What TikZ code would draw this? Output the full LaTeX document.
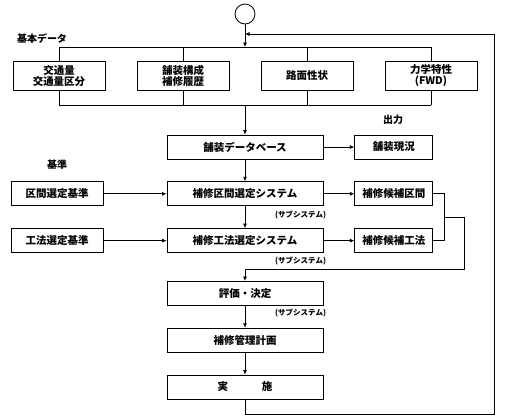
\documentclass[tikz,border=0pt]{standalone}
\usepackage{fontspec}
\setmainfont{Noto Sans CJK JP}
\usepackage{tikz}
\usetikzlibrary{arrows.meta, positioning, calc}

\begin{document}
\begin{tikzpicture}[
    x=1pt, y=-1pt,
    line width=0.8pt,
    node distance=22pt,
    arr/.style={-{Latex[length=4.5pt,width=4pt]}},
    databox/.style={rectangle, draw, minimum width=92pt, minimum height=29pt, align=center, font=\fontsize{10.5}{11}\selectfont\bfseries},
    mainbox/.style={rectangle, draw, minimum width=156pt, minimum height=24pt, font=\fontsize{10.5}{11}\selectfont\bfseries},
    sidebox/.style={rectangle, draw, minimum width=78pt, minimum height=24pt, font=\fontsize{10.5}{11}\selectfont\bfseries},
    critbox/.style={rectangle, draw, minimum width=92pt, minimum height=24pt, font=\fontsize{10.5}{11}\selectfont\bfseries},
    sublabel/.style={inner sep=0pt, font=\fontsize{7.5}{8}\selectfont\bfseries},
    headlabel/.style={inner sep=0pt, font=\fontsize{10}{11}\selectfont\bfseries},
]
\useasboundingbox (0,0) rectangle (515,416);

% Start
\node[circle, draw, minimum size=20pt, inner sep=0pt] (start) at (245,14) {};

% Main column
\node[mainbox] (db) at (245,147) {舗装データベース};
\node[mainbox, below=of db] (secsys) {補修区間選定システム};
\node[mainbox, below=of secsys] (methsys) {補修工法選定システム};
\node[mainbox, below=28pt of methsys] (eval) {評価・決定};
\node[mainbox, below=of eval] (plan) {補修管理計画};
\node[mainbox, below=of plan] (exec) {実\hspace{3.2em}施};

% Basic data
\node[databox, above=44pt of db, xshift=-186pt] (traffic) {交通量\\交通量区分};
\node[databox, above=44pt of db, xshift=-62pt] (pavement) {舗装構成\\補修履歴};
\node[databox, above=44pt of db, xshift=62pt] (surface) {路面性状};
\node[databox, above=44pt of db, xshift=186pt] (fwd) {力学特性\\(FWD)};

% Outputs and criteria
\node[sidebox, right=31pt of db] (status) {舗装現況};
\node[sidebox, right=31pt of secsys] (candsec) {補修候補区間};
\node[sidebox, right=31pt of methsys] (candmeth) {補修候補工法};
\node[critbox, left=63pt of secsys] (critsec) {区間選定基準};
\node[critbox, left=63pt of methsys] (critmeth) {工法選定基準};

% Labels
\node[headlabel] (lbldata) at (42,39) {基本データ};
\node[headlabel] (lblout) at (393,120) {出力};
\node[headlabel] (lblcrit) at (57,165) {基準};
\node[sublabel, below left=4pt and -3pt of secsys.south east] (subsec) {(サブシステム)};
\node[sublabel, below left=4pt and -3pt of methsys.south east] (submeth) {(サブシステム)};
\node[sublabel, below left=3pt and -3pt of eval.south east] (subeval) {(サブシステム)};

% Buses
\coordinate (bustop) at (245,47);
\coordinate (busbot) at (245,105);
\coordinate (loopR) at (494,34);
\coordinate (loopin) at (245,34);

\draw[arr] (start) -- (bustop);
\draw (traffic.north |- bustop) -- (fwd.north |- bustop);
\draw (traffic.south |- busbot) -- (fwd.south |- busbot);
\foreach \n in {traffic, pavement, surface, fwd} {
    \draw (\n.north) -- (\n.north |- bustop);
    \draw (\n.south) -- (\n.south |- busbot);
}
\draw[arr] (busbot) -- (db);

% Flow
\draw[arr] (db) -- (status);
\draw[arr] (db) -- (secsys);
\draw[arr] (secsys) -- (methsys);
\draw[arr] (critsec) -- (secsys);
\draw[arr] (critmeth) -- (methsys);
\draw[arr] (secsys) -- (candsec);
\draw[arr] (methsys) -- (candmeth);
\draw (candsec.east) -- ++(11,0) |- (candmeth.east);
\coordinate (bracket) at ($(candsec.east)!0.5!(candmeth.east)+(11,0)$);
\draw[arr] (bracket) -- ++(20,0) |- ($(eval.north)+(0,-12)$) -- (eval.north);
\draw[arr] (eval) -- (plan);
\draw[arr] (plan) -- (exec);

% Feedback
\draw[arr] (exec.south) -- ++(0,15) -| (loopR) -- (loopin);

\end{tikzpicture}
\end{document}
